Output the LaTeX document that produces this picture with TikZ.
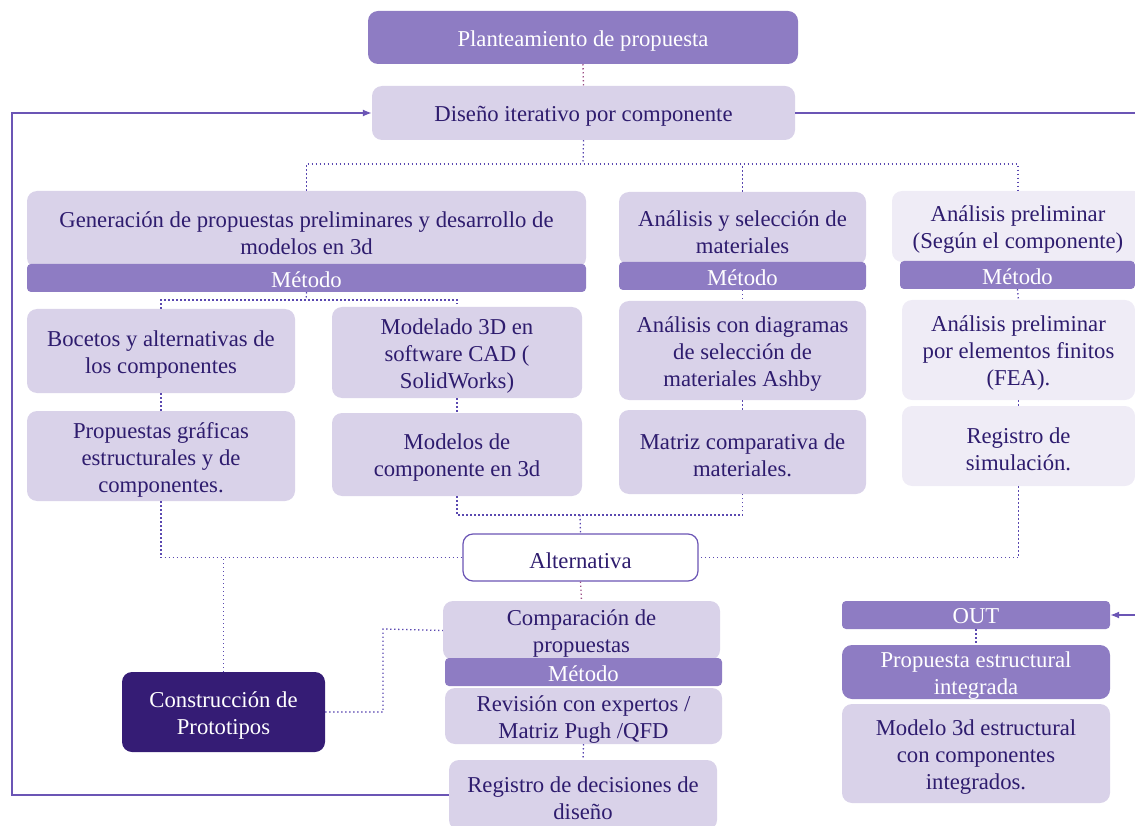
\documentclass[tikz,border=0pt]{standalone}
\usepackage{fontspec}
\setmainfont{Liberation Serif}
\usetikzlibrary{arrows.meta}
\definecolor{txt}{HTML}{2E1C6E}
\definecolor{light}{HTML}{D9D2E9}
\definecolor{lighter}{HTML}{EFECF6}
\definecolor{mid}{HTML}{8E7CC3}
\definecolor{dark}{HTML}{351C75}
\definecolor{loopc}{HTML}{6B55B5}
\definecolor{dotc}{HTML}{5A48B0}
\definecolor{dotp}{HTML}{9B4F86}
\newcommand\bodyfont{\fontsize{22.7}{27}\selectfont}
% box from (x1,y1) to (x2,y2) in picture units; its label is lowered by labdrop
\newcommand\bnode[7]{%
  \node[#6, minimum width={(#4-#2)*1pt}, minimum height={(#5-#3)*1pt}] (#1) at ({(#2+#4)/2},{(#3+#5)/2}) {};
  \node[#6, fill=none, draw=none, yshift=-\pgfkeysvalueof{/tikz/labdrop}] at (#1.center) {#7};}
\tikzset{
  labdrop/.initial=3.5pt,
  base/.style={rounded corners=10pt, align=center, inner sep=0pt, font=\bodyfont},
  lbox/.style={base, fill=light, text=txt},
  llbox/.style={base, fill=lighter, text=txt},
  mbox/.style={base, fill=mid, text=white},
  dbox/.style={base, fill=dark, text=white},
  wbox/.style={base, fill=white, text=txt, draw=loopc, line width=1.2pt},
  mbar/.style={base, rounded corners=4pt, fill=mid, text=white},
  dotline/.style={draw=dotc, line width=1.3pt, dash pattern=on 1.3pt off 2.7pt},
  dotpink/.style={draw=dotp, line width=1.3pt, dash pattern=on 1.3pt off 2.7pt},
  loopline/.style={draw=loopc, line width=1.4pt},
  arr/.style={-{Latex[length=9pt,width=7pt]}}
}
\begin{document}
\begin{tikzpicture}[x=1pt,y=-1pt]
\useasboundingbox (0,0) rectangle (1135,826);
\begin{scope}
\clip (0,0) rectangle (1135,826);
% top
\bnode{plan}{368}{11}{798}{64}{mbox}{Planteamiento de propuesta}
\bnode{dis}{372}{86}{795}{140}{lbox}{Diseño iterativo por componente}
% column 1
\bnode{gen}{27}{191}{586}{268}{lbox}{Generación de propuestas preliminares y desarrollo de\\modelos en 3d}
\pgfkeys{/tikz/labdrop=1.5pt}
\bnode{gm}{27}{264}{586}{292}{mbar}{Método}
\pgfkeys{/tikz/labdrop=3.5pt}
\bnode{boc}{27}{309}{295}{393}{lbox}{Bocetos y alternativas de\\los componentes}
\bnode{pg}{27}{411}{295}{501}{lbox}{Propuestas gráficas\\estructurales y de\\componentes.}
\bnode{mod}{332}{307}{582}{398}{lbox}{Modelado 3D en\\software CAD (\\SolidWorks)}
\bnode{mc}{332}{413}{582}{496}{lbox}{Modelos de\\componente en 3d}
% column 2
\bnode{as}{619}{192}{866}{265}{lbox}{Análisis y selección de\\materiales}
\pgfkeys{/tikz/labdrop=1.5pt}
\bnode{asm}{619}{262}{866}{290}{mbar}{Método}
\pgfkeys{/tikz/labdrop=3.5pt}
\bnode{acd}{619}{301}{866}{400}{lbox}{Análisis con diagramas\\de selección de\\materiales Ashby}
\bnode{mcm}{619}{410}{866}{494}{lbox}{Matriz comparativa de\\materiales.}
% column 3
\bnode{ap}{892}{191}{1144}{262}{llbox}{Análisis preliminar\\(Según el componente)}
\pgfkeys{/tikz/labdrop=1.5pt}
\bnode{apm}{900}{261}{1135}{289}{mbar}{Método}
\pgfkeys{/tikz/labdrop=3.5pt}
\bnode{fea}{902}{300}{1135}{400}{llbox}{Análisis preliminar\\por elementos finitos\\(FEA).}
\bnode{rs}{902}{406}{1135}{486}{llbox}{Registro de\\simulación.}
% lower part
\bnode{alt}{463}{534}{698}{581}{wbox}{Alternativa}
\bnode{cmp}{443}{601}{720}{660}{lbox}{Comparación de\\propuestas}
\pgfkeys{/tikz/labdrop=1.5pt}
\bnode{cmpm}{445}{658}{722}{686}{mbar}{Método}
\pgfkeys{/tikz/labdrop=3.5pt}
\bnode{rev}{445}{688}{722}{744}{lbox}{Revisión con expertos /\\Matriz Pugh /QFD}
\bnode{reg}{449}{760}{717}{830}{lbox}{Registro de decisiones de\\diseño}
\bnode{con}{122}{672}{325}{752}{dbox}{Construcción de\\Prototipos}
\pgfkeys{/tikz/labdrop=1.5pt}
\bnode{out}{842}{601}{1110}{629}{mbar}{OUT}
\pgfkeys{/tikz/labdrop=3.5pt}
\bnode{pe}{842}{645}{1110}{699}{mbox}{Propuesta estructural\\integrada}
\bnode{m3}{842}{704}{1110}{803}{lbox}{Modelo 3d estructural\\con componentes\\integrados.}
% junction points
\coordinate (j1) at (583,164);
\coordinate (j2) at (306,300);
\coordinate (j3) at (580,515);
\coordinate (j4) at (383,629);
\coordinate (lc) at (12,113);
\coordinate (rc) at (1150,113);
% dotted connectors
\draw[dotpink] (plan.south) -- (dis.north);
\draw[dotline] (dis.south) -- (j1);
\draw[dotline] (gen.north) |- (j1) -| (ap.north);
\draw[dotline] (as.north) -- (as.north |- j1);
\draw[dotline] (gm.south) -- (j2);
\draw[dotline] (boc.north) |- (j2) -| (mod.north);
\draw[dotline] (boc.south) -- (pg.north);
\draw[dotline] (mod.south) -- (mc.north);
\draw[dotline] (asm.south) -- (acd.north);
\draw[dotline] (acd.south) -- (mcm.north);
\draw[dotline] (apm.south) -- (fea.north);
\draw[dotline] (fea.south) -- (rs.north);
\draw[dotline] (mc.south) |- (j3) -| (mcm.south);
\draw[dotline] (j3) -- (alt.north);
\draw[dotline] (pg.south) |- (alt.west);
\draw[dotline] (rs.south) |- (alt.east);
\draw[dotline] (con.north) -- (con.north |- alt.west);
\draw[dotpink] (alt.south) -- (cmp.north);
\draw[dotline] (con.east) -| (j4) -- (cmp.west);
\draw[dotline] (rev.south) -- (reg.north);
\draw[dotline] (out.south) -- (pe.north);
% feedback loops
\draw[loopline,arr] (reg.west) -| (lc) -- (dis.west);
\draw[loopline,arr] (dis.east) -- (rc) |- (out.east);
\end{scope}
\end{tikzpicture}
\end{document}
